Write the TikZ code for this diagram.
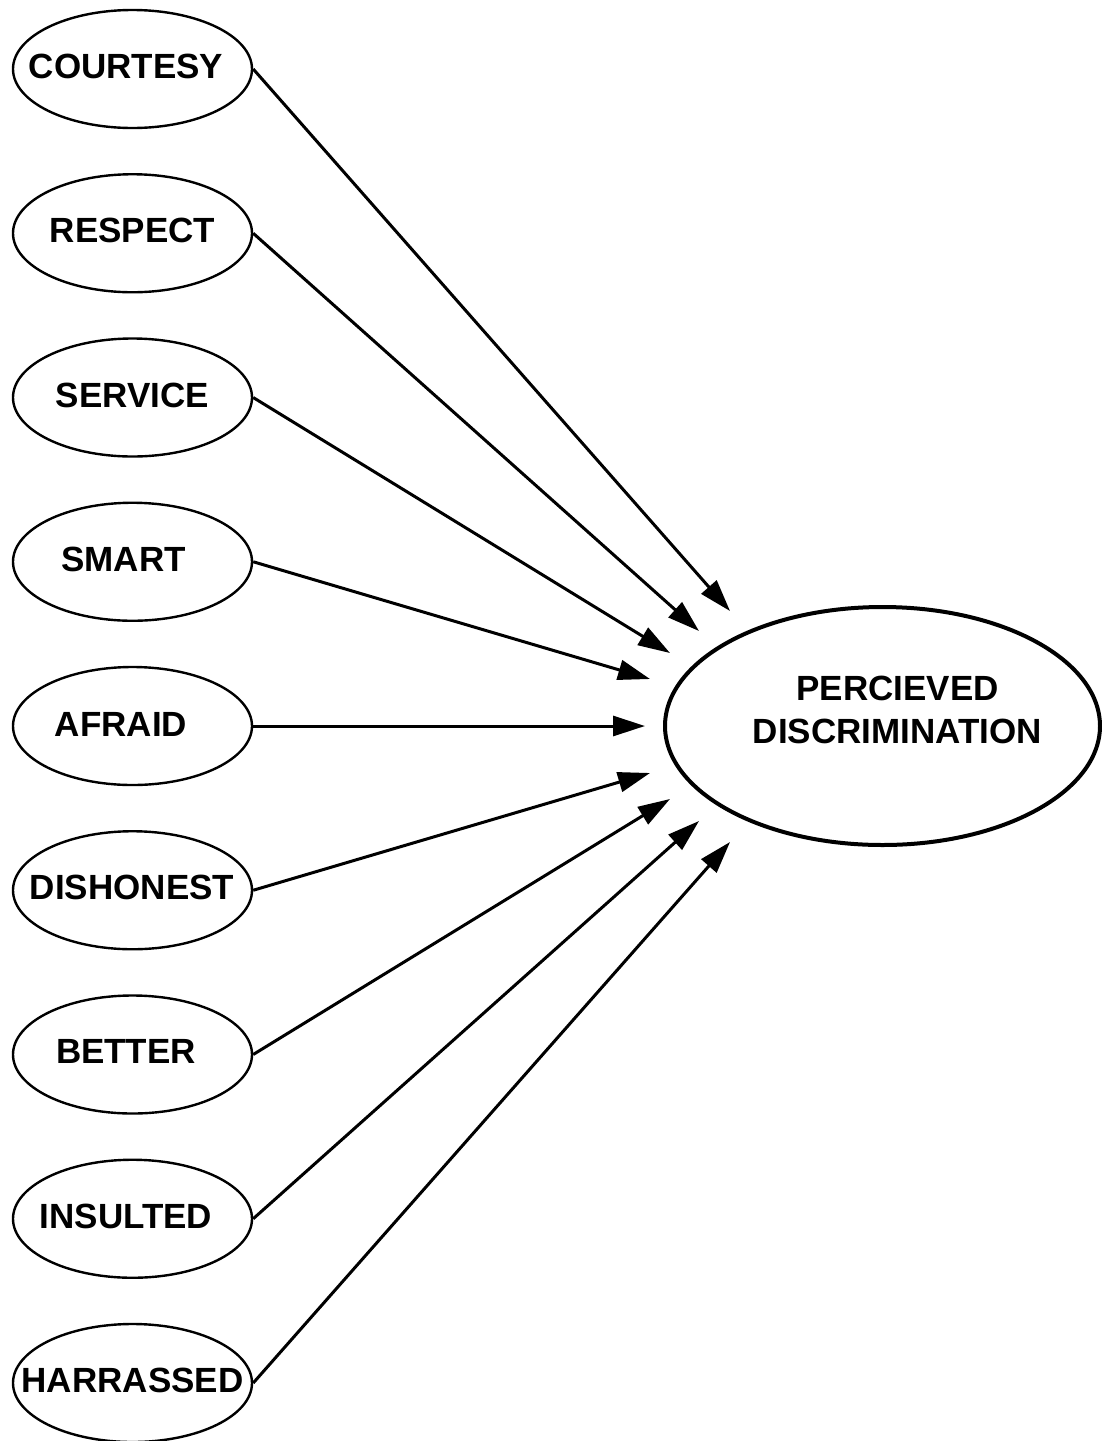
\documentclass[tikz,border=0pt]{standalone}
\usepackage{fontspec}
\setmainfont{Liberation Sans}
\usetikzlibrary{shapes.geometric,arrows.meta}
\begin{document}
\begin{tikzpicture}[x=1pt,y=-1pt,
  small/.style={draw, ellipse, line width=2.4pt, inner sep=0pt, minimum width=239pt, minimum height=118pt},
  big/.style={draw, ellipse, line width=4pt, inner sep=0pt, minimum width=435pt, minimum height=238pt},
  lbl/.style={font=\fontsize{35}{43}\selectfont\bfseries, inner sep=0pt, anchor=base},
  conn/.style={line width=3pt, -{Triangle[length=32pt,width=20pt]}}]
\useasboundingbox (0,0) rectangle (1102,1441);

\node[small] (c1) at (132.5,69) {};
\node[small] (c2) at (132.5,233.25) {};
\node[small] (c3) at (132.5,397.5) {};
\node[small] (c4) at (132.5,561.75) {};
\node[small] (c5) at (132.5,726) {};
\node[small] (c6) at (132.5,890.25) {};
\node[small] (c7) at (132.5,1054.5) {};
\node[small] (c8) at (132.5,1218.75) {};
\node[small] (c9) at (132.5,1383) {};

\node[lbl] (l1) at (126,78.5) {COURTESY};
\node[lbl] (l2) at (132.5,242.5) {RESPECT};
\node[lbl] (l3) at (132.5,407) {SERVICE};
\node[lbl] (l4) at (123.5,571.5) {SMART};
\node[lbl] (l5) at (121,736.5) {AFRAID};
\node[lbl] (l6) at (132,899) {DISHONEST};
\node[lbl] (l7) at (126,1063) {BETTER};
\node[lbl] (l8) at (126,1228) {INSULTED};
\node[lbl] (l9) at (132.5,1392.5) {HARRASSED};

\node[big] (P) at (882.5,726) {};
\node[font=\fontsize{35}{43}\selectfont\bfseries, align=center, inner sep=0pt] (Pt) at (897.5,710) {PERCIEVED\\DISCRIMINATION};

\coordinate (t1) at (730,611);
\coordinate (t2) at (699,631);
\coordinate (t3) at (670,653);
\coordinate (t4) at (650,679);
\coordinate (t5) at (645,726);
\coordinate (t6) at (650,773);
\coordinate (t7) at (670,799);
\coordinate (t8) at (699,821);
\coordinate (t9) at (730,842);

\foreach \i in {1,...,9} {
  \draw[conn] (c\i.east) -- (t\i);
}
\end{tikzpicture}
\end{document}
